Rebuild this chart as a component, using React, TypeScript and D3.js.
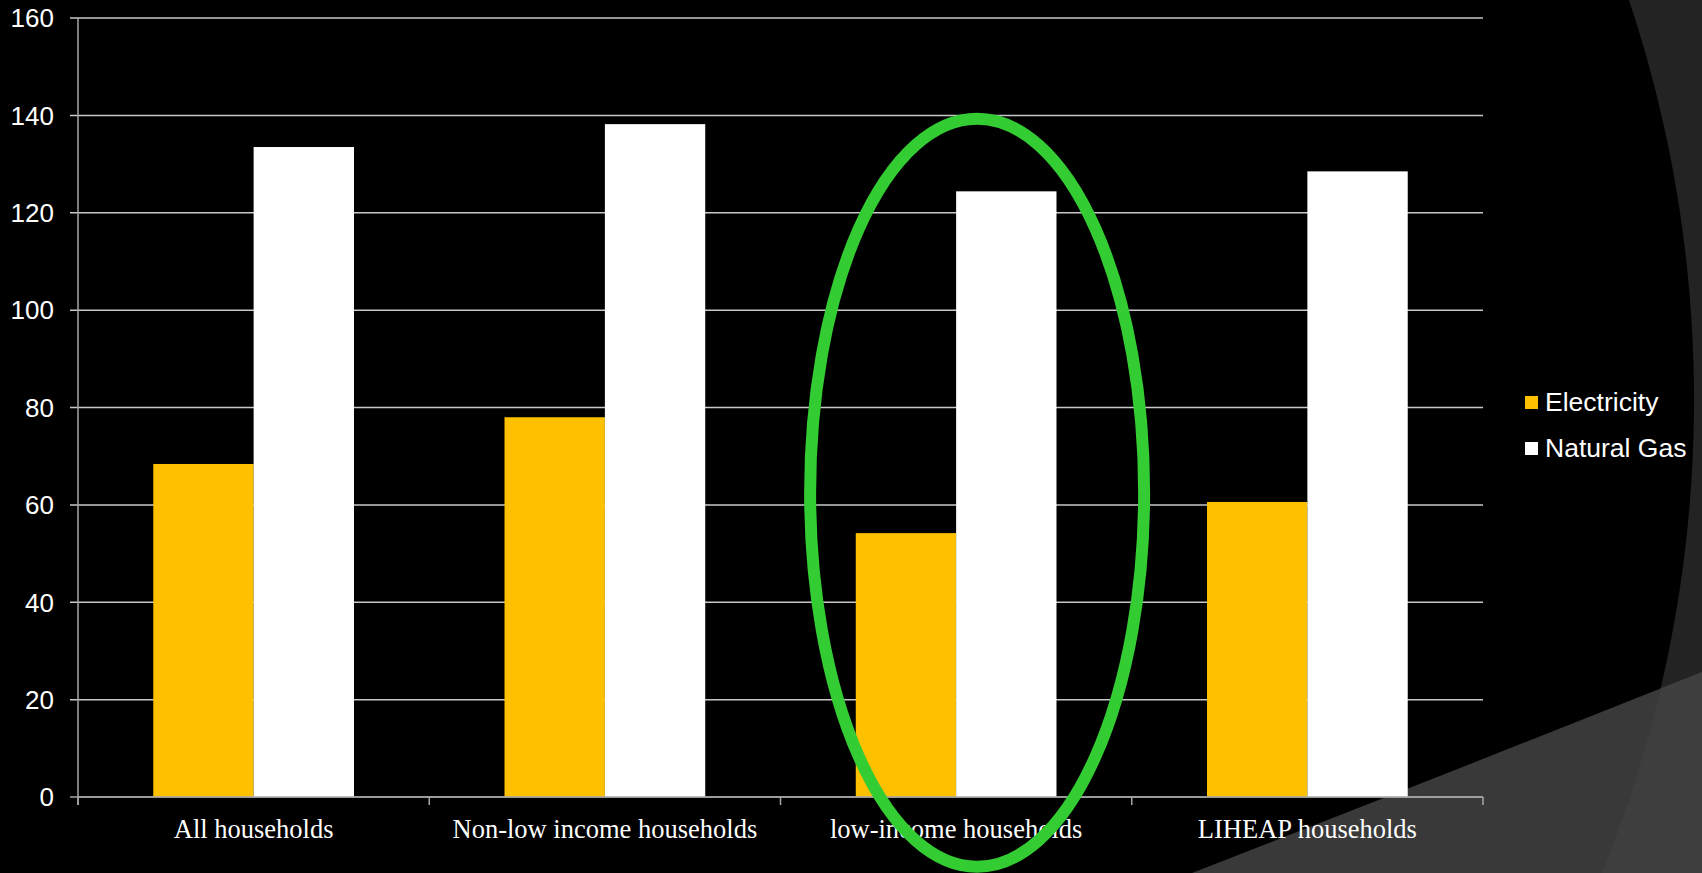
import React from "react";
import * as d3 from "d3";

const categories = ["All households", "Non-low income households", "low-income households", "LIHEAP households"];
const seriesNames = ["Electricity", "Natural Gas"];
const electricity = [68.4, 78.0, 54.2, 60.6];
const naturalGas = [133.5, 138.2, 124.4, 128.5];
const yTicks = [0, 20, 40, 60, 80, 100, 120, 140, 160];
const colors = ["#FFC000", "#FFFFFF"];

const W = 1702;
const H = 873;
const M = { left: 78, right: 1483, top: 18, bottom: 797 };

export default function App() {
  const x = d3.scaleBand<string>().domain(categories).range([M.left, M.right]).paddingInner(0).paddingOuter(0);
  const y = d3.scaleLinear().domain([0, 160]).range([M.bottom, M.top]);
  const inner = d3.scaleBand<string>().domain(seriesNames).range([0, x.bandwidth()]).paddingInner(0).paddingOuter(0.75);
  const series = [electricity, naturalGas];

  // decorative background: arc band + lower wedge
  const cx = 432, cy = 400, R = 1262;
  const arcPath = (() => {
    const p = d3.path();
    const a0 = Math.asin((0 - cy) / R);
    const a1 = Math.asin((H - cy) / R);
    const xTop = cx + R * Math.cos(a0);
    p.moveTo(xTop, 0);
    const n = 60;
    for (let i = 1; i <= n; i++) {
      const a = a0 + (a1 - a0) * (i / n);
      p.lineTo(cx + R * Math.cos(a), cy + R * Math.sin(a));
    }
    p.lineTo(W, H);
    p.lineTo(W, 0);
    p.closePath();
    return p.toString();
  })();

  const wedge = d3.line()([[1192, H], [1450, 772], [1702, 672], [W, H]]) + "Z";

  const categoryBoundaries = d3.range(categories.length + 1).map((i) => M.left + i * x.bandwidth());
  const ellipseCx = (x(categories[2]) as number) + x.bandwidth() / 2 + 21;

  return (
    <svg width={W} height={H} style={{ position: "absolute", left: 0, top: 0, background: "#000" }}>
      <defs>
        <clipPath id="wedgeClip">
          <path d={wedge} />
        </clipPath>
      </defs>
      <rect x={0} y={0} width={W} height={H} fill="#000" />
      <path d={arcPath} fill="#232323" />
      <path d={wedge} fill="#393939" />
      <path d={arcPath} fill="#3e3e3e" clipPath="url(#wedgeClip)" />

      {/* gridlines */}
      {yTicks.map((t) => (
        <line key={"g" + t} x1={M.left - 8} x2={M.right} y1={y(t)} y2={y(t)} stroke={t === 0 ? "#a6a6a6" : "#c8c8c8"} strokeWidth={1.5} />
      ))}

      {/* bars */}
      {categories.map((c, ci) =>
        seriesNames.map((s, si) => (
          <rect
            key={c + s}
            x={(x(c) as number) + (inner(s) as number)}
            y={y(series[si][ci])}
            width={inner.bandwidth()}
            height={y(0) - y(series[si][ci])}
            fill={colors[si]}
          />
        ))
      )}

      {/* axes */}
      <line x1={M.left} x2={M.left} y1={M.top} y2={M.bottom + 8} stroke="#a6a6a6" strokeWidth={1.5} />
      <line x1={M.left} x2={M.right} y1={M.bottom} y2={M.bottom} stroke="#a6a6a6" strokeWidth={1.5} />
      {categoryBoundaries.map((b, i) => (
        <line key={"xt" + i} x1={b} x2={b} y1={M.bottom} y2={M.bottom + 8} stroke="#a6a6a6" strokeWidth={1.5} />
      ))}

      {yTicks.map((t) => (
        <text key={"yl" + t} x={54} y={y(t)} dy="0.36em" textAnchor="end" fill="#fff" fontFamily="Liberation Sans, Arial, sans-serif" fontSize={26}>
          {t}
        </text>
      ))}

      {categories.map((c) => (
        <text key={"xl" + c} x={(x(c) as number) + x.bandwidth() / 2} y={838} textAnchor="middle" fill="#fff" fontFamily="Liberation Serif, 'Times New Roman', serif" fontSize={26.5}>
          {c}
        </text>
      ))}

      {/* legend */}
      {seriesNames.map((s, i) => (
        <g key={"lg" + s} transform={`translate(1525, ${396 + i * 46})`}>
          <rect x={0} y={0} width={13} height={13} fill={colors[i]} />
          <text x={20} y={14.5} fill="#fff" fontFamily="Liberation Sans, Arial, sans-serif" fontSize={26.5}>
            {s}
          </text>
        </g>
      ))}

      {/* highlight ellipse */}
      <ellipse cx={ellipseCx} cy={y(62.5)} rx={167} ry={374} fill="none" stroke="#33CC33" strokeWidth={12} />
    </svg>
  );
}
